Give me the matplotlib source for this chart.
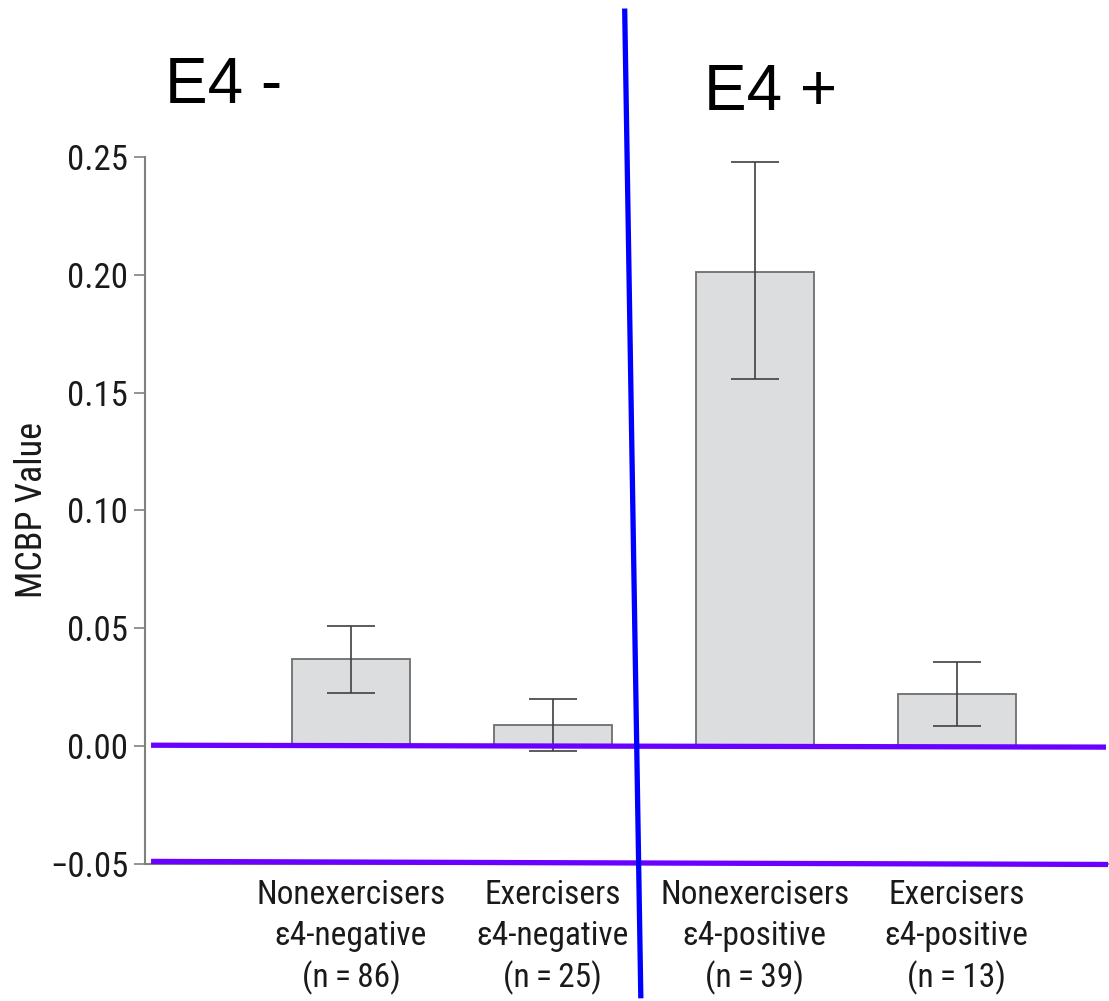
import matplotlib
matplotlib.use("Agg")
import matplotlib.pyplot as plt
from matplotlib import font_manager

names = {f.name for f in font_manager.fontManager.ttflist}
cond = 'Liberation Sans Narrow' if 'Liberation Sans Narrow' in names else 'Roboto Condensed' if 'Roboto Condensed' in names else 'Liberation Sans'

categories = ["Nonexercisers\nε4-negative\n(n\u2009=\u200986)", "Exercisers\nε4-negative\n(n\u2009=\u200925)",
              "Nonexercisers\nε4-positive\n(n\u2009=\u200939)", "Exercisers\nε4-positive\n(n\u2009=\u200913)"]
values = [0.037, 0.009, 0.201, 0.022]
err_low = [0.0225, -0.002, 0.156, 0.0085]
err_high = [0.051, 0.020, 0.248, 0.0357]
yticks = [-0.05, 0.00, 0.05, 0.10, 0.15, 0.20, 0.25]
ytick_labels = ["\u22120.05", "0.00", "0.05", "0.10", "0.15", "0.20", "0.25"]
group_labels = ["E4 -", "E4 +"]

fig = plt.figure(figsize=(11.09, 10.01), dpi=100)
ax = fig.add_axes([145/1109, 1-864/1001, (1108-145)/1109, (864-157)/1001])

x = list(range(len(values)))
yerr = [[v - lo for v, lo in zip(values, err_low)], [hi - v for v, hi in zip(values, err_high)]]
ax.bar(x, values, width=0.585, color='#dcdddf', edgecolor='#6e6e6e', linewidth=1.3, zorder=2)
ax.errorbar(x, values, yerr=yerr, fmt='none', ecolor='#404040', elinewidth=1.2,
            capsize=17, capthick=1.2, zorder=3)

ax.set_xlim(-1.02, 3.75)
ax.set_ylim(-0.05, 0.25)
ax.set_yticks(yticks)
ax.set_yticklabels(ytick_labels, fontsize=25, family=cond, color='#1a1a1a')
ax.set_xticks(x)
ax.set_xticklabels(categories, fontsize=24, family=cond, color='#1a1a1a', linespacing=1.33)
ax.tick_params(axis='y', length=8, width=1.2, color='#808080', pad=4)
ax.tick_params(axis='x', length=0, pad=11)
for s in ['top', 'right']:
    ax.spines[s].set_visible(False)
ax.spines['left'].set_color('#808080')
ax.spines['left'].set_linewidth(1.5)
ax.spines['bottom'].set_color('#808080')
ax.spines['bottom'].set_linewidth(1.5)
ax.set_ylabel("MCBP Value", fontsize=26, family=cond, color='#1a1a1a', labelpad=0)

# overlay annotation lines
purple = '#6a00ff'
ax.plot([-0.99, 3.74], [0.0004, -0.0004], color=purple, lw=3.8, clip_on=False, zorder=5, solid_capstyle='butt')
ax.plot([-0.99, 3.75], [-0.0489, -0.0502], color=purple, lw=3.8, clip_on=False, zorder=5, solid_capstyle='butt')
ax.plot([1.356, 1.436], [0.313, -0.107], color='#0000ff', lw=3.8, clip_on=False, zorder=6, solid_capstyle='butt')

fig.text(165/1109, 1-103/1001, group_labels[0], fontsize=46, family='Liberation Sans', color='black', va='baseline')
fig.text(704/1109, 1-110/1001, group_labels[1], fontsize=46, family='Liberation Sans', color='black', va='baseline')

fig.savefig("out.png", dpi=100)
